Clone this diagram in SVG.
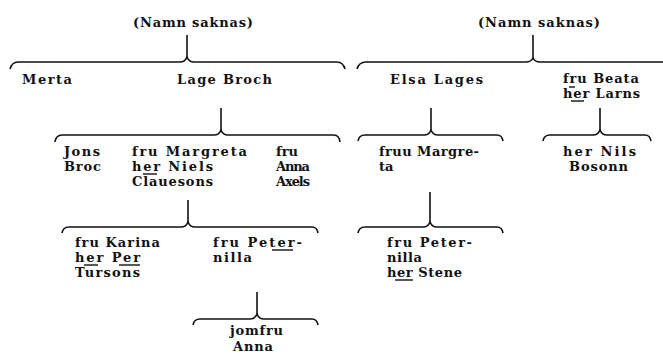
<svg xmlns="http://www.w3.org/2000/svg" width="663" height="355" viewBox="0 0 663 355">
<style>
text{font-family:"DejaVu Serif","Liberation Serif",serif;font-weight:bold;font-size:13px;fill:#111}
.b{fill:none;stroke:#111;stroke-width:1.6;stroke-linejoin:round}
.ul{stroke:#111;stroke-width:1.4}
</style>
<rect width="663" height="355" fill="#fff"/>
<g id="connectors">
<path class="b" d="M187,35 V57"/>
<path class="b" d="M10,69 Q12,62 18,62 L180,62 Q185,62 187,57 Q189,62 194,62 L337,62 Q343,62 345,69"/>
<path class="b" d="M533,35 V58"/>
<path class="b" d="M357,69 Q359,62 366,62 L526,62 Q531,62 533,58 Q535,62 540,62 L663,62"/>
<path class="b" d="M221,108 V130"/>
<path class="b" d="M55,142 Q56,135 62,135 L214,135 Q219,135 221,130 Q223,135 228,135 L334,135 Q339,135 340,142"/>
<path class="b" d="M431,108 V130"/>
<path class="b" d="M358,141 Q359,135 365,135 L424,135 Q429,135 431,130 Q433,135 438,135 L497,135 Q502,135 503,141"/>
<path class="b" d="M600,108 V130"/>
<path class="b" d="M543,141 Q544,135 550,135 L593,135 Q598,135 600,130 Q602,135 607,135 L645,135 Q650,135 651,141"/>
<path class="b" d="M188,200 V222"/>
<path class="b" d="M62,233 Q63,227 69,227 L181,227 Q186,227 188,222 Q190,227 195,227 L312,227 Q317,227 318,233"/>
<path class="b" d="M430,192 V222"/>
<path class="b" d="M358,233 Q359,227 365,227 L423,227 Q428,227 430,222 Q432,227 437,227 L497,227 Q502,227 503,233"/>
<path class="b" d="M257,292 V314"/>
<path class="b" d="M193,325 Q194,319 200,319 L250,319 Q255,319 257,314 Q259,319 264,319 L312,319 Q317,319 318,325"/>
</g>
<g id="n1"><text x="133" y="27" textLength="120">(Namn saknas)</text></g>
<g id="n2"><text x="478" y="27" textLength="122">(Namn saknas)</text></g>
<g id="n3"><text x="22" y="84" textLength="50">Merta</text></g>
<g id="n4"><text x="177" y="84" textLength="95">Lage Broch</text></g>
<g id="n5"><text x="390" y="84" textLength="93">Elsa Lages</text></g>
<g id="n6"><text x="563" y="83" textLength="76">fru Beata</text><text x="563" y="98" textLength="77">her Larns</text>
<line class="ul" x1="569" y1="87" x2="575" y2="87"/><line class="ul" x1="571" y1="101" x2="584" y2="101"/></g>
<g id="n7"><text x="64" y="156" textLength="36">Jons</text><text x="64" y="171" textLength="37">Broc</text></g>
<g id="n8"><text x="132" y="156" textLength="115">fru Margreta</text><text x="132" y="171" textLength="81">her Niels</text><text x="132" y="186" textLength="81">Clauesons</text>
<line class="ul" x1="143" y1="174" x2="157" y2="174"/></g>
<g id="n9"><text x="276" y="156" textLength="22">fru</text><text x="276" y="171" textLength="34">Anna</text><text x="276" y="186" textLength="34">Axels</text></g>
<g id="n10"><text x="379" y="156" textLength="100">fruu Margre-</text><text x="379" y="171">ta</text></g>
<g id="n11"><text x="563" y="156" textLength="73">her Nils</text><text x="569" y="171" textLength="59">Bosonn</text></g>
<g id="n12"><text x="75" y="247" textLength="85">fru Karina</text><text x="75" y="262" textLength="65">her Per</text><text x="75" y="277" textLength="65">Tursons</text>
<line class="ul" x1="84" y1="265" x2="98" y2="265"/><line class="ul" x1="119" y1="265" x2="140" y2="265"/></g>
<g id="n13"><text x="213" y="247" textLength="89">fru Peter-</text><text x="213" y="262" textLength="39">nilla</text>
<line class="ul" x1="272" y1="250" x2="293" y2="250"/></g>
<g id="n14"><text x="387" y="247" textLength="85">fru Peter-</text><text x="387" y="262" textLength="35">nilla</text><text x="387" y="277" textLength="75">her Stene</text>
<line class="ul" x1="395" y1="280" x2="413" y2="280"/></g>
<g id="n15"><text x="230" y="335" textLength="53">jomfru</text><text x="233" y="351" textLength="40">Anna</text></g>
</svg>
